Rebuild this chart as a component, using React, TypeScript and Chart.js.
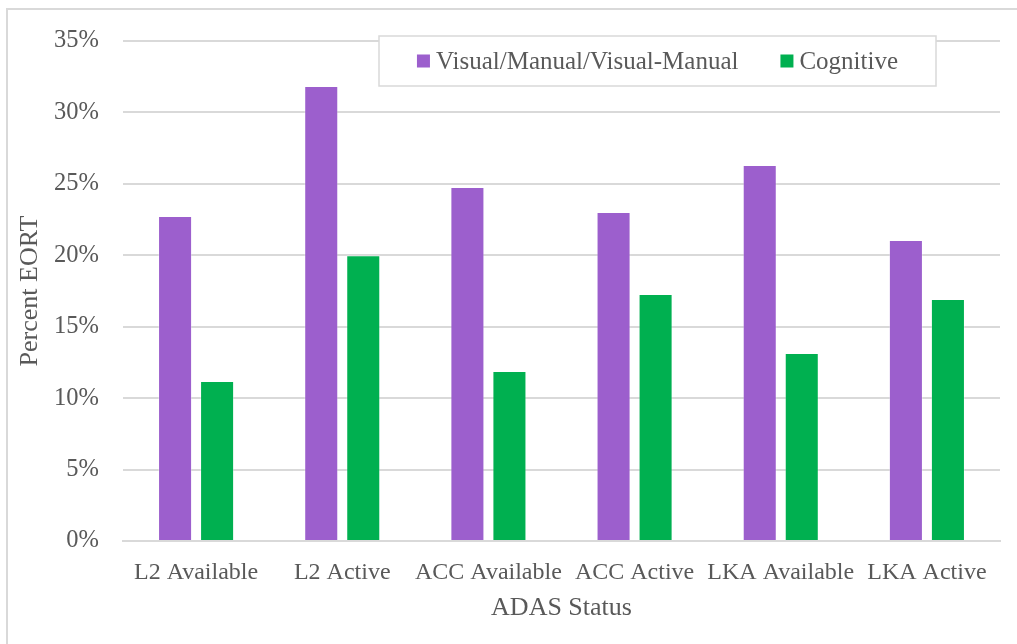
import React, { useEffect, useRef } from "react";
import { Chart, registerables } from "chart.js";

Chart.register(...registerables);

const categories = ["L2 Available", "L2 Active", "ACC Available", "ACC Active", "LKA Available", "LKA Active"];
const visualManual = [22.75, 31.85, 24.78, 23.03, 26.32, 21.07];
const cognitive = [11.2, 20.0, 11.9, 17.29, 13.16, 16.94];
const seriesNames = ["Visual/Manual/Visual-Manual", "Cognitive"];
const seriesColors = ["#9C5FCD", "#00B050"];
const yTicks = [0, 5, 10, 15, 20, 25, 30, 35];

const FONT = "'Liberation Serif', 'Times New Roman', serif";
const TEXT = "#595959";
const GRID = "#d9d9d9";

const legendPlugin = {
  id: "boxLegend",
  afterDraw(chart: any) {
    const { ctx, chartArea } = chart;
    const boxL = chartArea.left + 256;
    const boxT = chartArea.top - 5;
    const boxW = 557;
    const boxH = 50;
    ctx.save();
    ctx.fillStyle = "#ffffff";
    ctx.fillRect(boxL, boxT, boxW, boxH);
    ctx.strokeStyle = GRID;
    ctx.lineWidth = 1.5;
    ctx.strokeRect(boxL, boxT, boxW, boxH);
    ctx.font = `25px ${FONT}`;
    ctx.textBaseline = "middle";
    ctx.textAlign = "left";
    const sq = 13;
    const gapSqText = 6;
    const gapItems = 42;
    const widths = seriesNames.map((n) => ctx.measureText(n).width);
    const total = widths.reduce((a, w) => a + sq + gapSqText + w, 0) + gapItems * (seriesNames.length - 1);
    let x = boxL + (boxW - total) / 2;
    const cy = boxT + boxH / 2;
    seriesNames.forEach((name, i) => {
      ctx.fillStyle = seriesColors[i];
      ctx.fillRect(x, cy - sq / 2, sq, sq);
      x += sq + gapSqText;
      ctx.fillStyle = TEXT;
      ctx.fillText(name, x, cy + 1);
      x += widths[i] + gapItems;
    });
    ctx.restore();
  },
};

export default function App() {
  const canvasRef = useRef<HTMLCanvasElement | null>(null);

  useEffect(() => {
    const canvas = canvasRef.current;
    if (!canvas) return;
    const chart = new Chart(canvas, {
      type: "bar",
      data: {
        labels: categories,
        datasets: [
          {
            label: seriesNames[0],
            data: visualManual,
            backgroundColor: seriesColors[0],
            borderColor: "rgba(255,255,255,0.3)",
            borderWidth: 1,
            categoryPercentage: 0.575,
            barPercentage: 0.81,
          },
          {
            label: seriesNames[1],
            data: cognitive,
            backgroundColor: seriesColors[1],
            borderColor: "rgba(255,255,255,0.3)",
            borderWidth: 1,
            categoryPercentage: 0.575,
            barPercentage: 0.81,
          },
        ],
      },
      options: {
        animation: false,
        responsive: false,
        maintainAspectRatio: false,
        layout: { padding: { left: 0, top: 41, right: 17, bottom: 0 } },
        plugins: {
          legend: { display: false },
          tooltip: { enabled: false },
        },
        scales: {
          x: {
            grid: { display: false, drawTicks: false },
            border: { display: true, color: GRID, width: 2 },
            ticks: {
              color: TEXT,
              font: { family: FONT, size: 24 },
              padding: 17,
              maxRotation: 0,
              autoSkip: false,
            },
            title: {
              display: true,
              text: "ADAS Status",
              color: TEXT,
              font: { family: FONT, size: 26 },
              padding: { top: 0, bottom: 20 },
            },
            afterFit: (scale: any) => {
              scale.height = 103;
            },
          },
          y: {
            min: 0,
            max: 35,
            afterBuildTicks: (scale: any) => {
              scale.ticks = yTicks.map((v) => ({ value: v }));
            },
            grid: { color: GRID, lineWidth: 2, drawTicks: false },
            border: { display: false },
            ticks: {
              color: TEXT,
              font: { family: FONT, size: 24.5 },
              padding: 24,
              callback: (v: any) => `${v}%`,
            },
            title: {
              display: true,
              text: "Percent EORT",
              color: TEXT,
              font: { family: FONT, size: 26 },
              padding: { top: 15, bottom: 0 },
            },
            afterFit: (scale: any) => {
              scale.width = 123;
            },
          },
        },
      },
      plugins: [legendPlugin],
    });
    return () => chart.destroy();
  }, []);

  return (
    <div>
      <div
        style={{
          position: "fixed",
          left: 6,
          top: 8,
          width: 1100,
          height: 700,
          border: "2px solid #d9d9d9",
          background: "#ffffff",
          boxSizing: "border-box",
        }}
      />
      <canvas
        ref={canvasRef}
        width={1017}
        height={644}
        style={{ position: "fixed", left: 0, top: 0, width: 1017, height: 644 }}
      />
    </div>
  );
}
